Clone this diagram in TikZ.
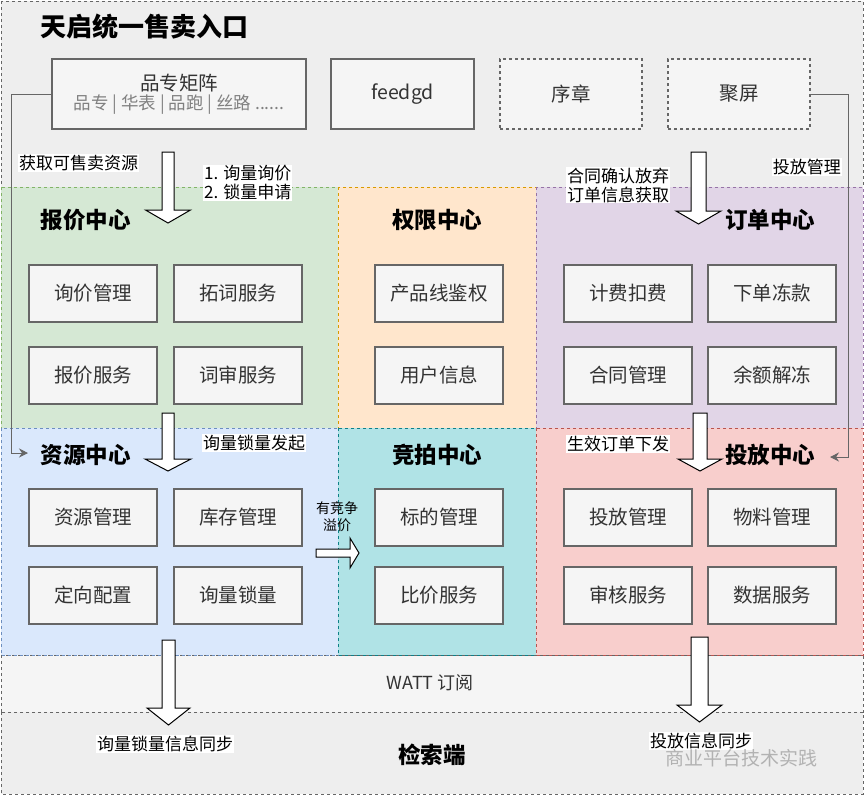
\documentclass[tikz,border=0pt]{standalone}
\usepackage{fontspec}
\setmainfont{Noto Sans CJK SC}
\usepackage{tikz}
\usetikzlibrary{arrows.meta,calc}
\definecolor{topfill}{HTML}{EEEEEE}
\definecolor{wattfill}{HTML}{F5F5F5}
\definecolor{boxfill}{HTML}{F5F5F5}
\definecolor{boxline}{HTML}{666666}
\definecolor{txt}{HTML}{333333}
\definecolor{greenfill}{HTML}{D5E8D4}\definecolor{greenline}{HTML}{82B366}
\definecolor{orangefill}{HTML}{FFE6CC}\definecolor{orangeline}{HTML}{D79B00}
\definecolor{purplefill}{HTML}{E1D5E7}\definecolor{purpleline}{HTML}{9673A6}
\definecolor{bluefill}{HTML}{DAE8FC}\definecolor{blueline}{HTML}{6C8EBF}
\definecolor{tealfill}{HTML}{B0E3E6}\definecolor{tealline}{HTML}{0E8088}
\definecolor{redfill}{HTML}{F8CECC}\definecolor{redline}{HTML}{B85450}

\begin{document}
\begin{tikzpicture}[x=1pt,y=-1pt,
	area/.style={dashed,line width=0.8pt},
	svc/.style={draw=boxline,fill=boxfill,line width=1.2pt,minimum width=128pt,minimum height=57pt,
		text=txt,font=\fontsize{19.5}{21}\selectfont},
	entry/.style={svc,minimum height=70pt},
	ttl/.style={font=\bfseries\fontsize{22.5}{25}\selectfont},
	lbl/.style={fill=white,inner sep=1pt,align=left,font=\fontsize{17}{19}\selectfont},
	link/.style={draw=boxline,line width=1pt,-{Stealth[length=9pt,width=9pt]}},
	fatarrow/.style={draw=black,fill=white,line width=1pt,line join=miter}]
		\useasboundingbox (0,0) rectangle (864,795);
%
		\draw[area,draw=boxline,fill=topfill] (1,1) rectangle (863,187);
		\draw[area,draw=boxline,fill=wattfill] (1,655) rectangle (863,712);
		\draw[area,draw=boxline,fill=topfill] (1,712) rectangle (863,794);
		\draw[area,draw=greenline,fill=greenfill] (1,187) rectangle (338,428);
		\draw[area,draw=orangeline,fill=orangefill] (338,187) rectangle (536,428);
		\draw[area,draw=purpleline,fill=purplefill] (536,187) rectangle (863,428);
		\draw[area,draw=blueline,fill=bluefill] (1,428) rectangle (338,655);
		\draw[area,draw=tealline,fill=tealfill] (338,428) rectangle (536,655);
		\draw[area,draw=redline,fill=redfill] (536,428) rectangle (863,655);
%
		\node[ttl,font=\bfseries\fontsize{26}{28}\selectfont,anchor=west] (title) at (37,27) {天启统一售卖入口};
		\node[entry,minimum width=254pt,align=center] (pzjz) at (179,94)
			{品专矩阵\\[-2pt]{\color{gray}\fontsize{17.5}{19}\selectfont 品专 | 华表 | 品跑 | 丝路 ......}};
		\node[entry,minimum width=143pt] (feed) at (402.5,94) {feedgd};
		\node[entry,minimum width=142pt,dashed] (xz) at (571,94) {序章};
		\node[entry,minimum width=142pt,dashed] (jp) at (739,94) {聚屏};
%
		\node[ttl,anchor=west] (bjzx) at (37,220) {报价中心};
		\node[ttl] (qxzx) at (437,220) {权限中心};
		\node[ttl,anchor=east] (ddzx) at (819,220) {订单中心};
		\node[ttl,anchor=west] (zyzx) at (37,455) {资源中心};
		\node[ttl] (jpzx) at (437,455) {竞拍中心};
		\node[ttl,anchor=east] (tfzx) at (819,455) {投放中心};
%
		\node[svc] (xjgl) at (93,293.5) {询价管理};
		\node[svc] (tcfw) at (238,293.5) {拓词服务};
		\node[svc] (bjfw) at (93,375.5) {报价服务};
		\node[svc] (csfw) at (238,375.5) {词审服务};
		\node[svc] (cpxjq) at (439,293.5) {产品线鉴权};
		\node[svc] (yhxx) at (439,375.5) {用户信息};
		\node[svc] (jfkf) at (628,293.5) {计费扣费};
		\node[svc] (xddk) at (772,293.5) {下单冻款};
		\node[svc] (htgl) at (628,375.5) {合同管理};
		\node[svc] (yejd) at (772,375.5) {余额解冻};
		\node[svc] (zygl) at (93,517.5) {资源管理};
		\node[svc] (kcgl) at (238,517.5) {库存管理};
		\node[svc] (dxpz) at (93,595.5) {定向配置};
		\node[svc] (xlsl) at (238,595.5) {询量锁量};
		\node[svc] (bdgl) at (439,517.5) {标的管理};
		\node[svc] (bjfw2) at (439,595.5) {比价服务};
		\node[svc] (tfgl) at (628,517.5) {投放管理};
		\node[svc] (wlgl) at (772,517.5) {物料管理};
		\node[svc] (shfw) at (628,595.5) {审核服务};
		\node[svc] (sjfw) at (772,595.5) {数据服务};
%
		\node[font=\fontsize{18}{20}\selectfont,text=txt] (watt) at (430,683) {WATT 订阅};
		\node[ttl] (jsd) at (432,755) {检索端};
%
		\coordinate (zyin) at (28,453);
		\coordinate (tfin) at (830,457);
		\draw[link] (pzjz.west) -- ++(-40,0) |- (zyin);
		\draw[link] (jp.east) -- ++(38,0) |- (tfin);
%
		\draw[fatarrow] (162,152) -- (174,152) -- (174,210) -- (190.5,210) -- (168,223)
			-- (145.5,210) -- (162,210) -- cycle;
		\draw[fatarrow] (691,152) -- (706,152) -- (706,211) -- (721,211) -- (698.5,224)
			-- (676,211) -- (691,211) -- cycle;
		\draw[fatarrow] (162,413) -- (174,413) -- (174,459) -- (191,459) -- (168,471)
			-- (145,459) -- (162,459) -- cycle;
		\draw[fatarrow] (693,413) -- (707,413) -- (707,459) -- (722,459) -- (700,471)
			-- (678,459) -- (693,459) -- cycle;
		\draw[fatarrow] (162,640) -- (175,640) -- (175,708) -- (190,708) -- (168.5,725)
			-- (147,708) -- (162,708) -- cycle;
		\draw[fatarrow] (691,637) -- (708,637) -- (708,705) -- (722,705) -- (699.5,722)
			-- (677,705) -- (691,705) -- cycle;
		\draw[fatarrow] (316,549) -- (350,549) -- (350,538) -- (359,553) -- (350,568)
			-- (350,557) -- (316,557) -- cycle;
%
		\node[lbl,anchor=west] (hqks) at (18,163) {获取可售卖资源};
		\node[lbl,anchor=east] (tfgl2) at (842,167) {投放管理};
		\node[lbl,anchor=west] (xlxj) at (203,183) {1. 询量询价\\2. 锁量申请};
		\node[lbl,anchor=west] (htqr) at (566,185) {合同确认放弃\\订单信息获取};
		\node[lbl,anchor=west] (xlfq) at (202,443) {询量锁量发起};
		\node[lbl,anchor=west] (sxdd) at (566,444) {生效订单下发};
		\node[align=center,inner sep=0pt,font=\fontsize{14}{17}\selectfont] (yjz) at (337,517) {有竞争\\溢价};
		\node[lbl,anchor=west] (xltb) at (96,744) {询量锁量信息同步};
		\node[lbl,anchor=west] (tftb) at (649,741) {投放信息同步};
		\node[anchor=west,text=gray!60,font=\fontsize{19}{21}\selectfont] (wm) at (662,758) {商业平台技术实践};
	\end{tikzpicture}
\end{document}
